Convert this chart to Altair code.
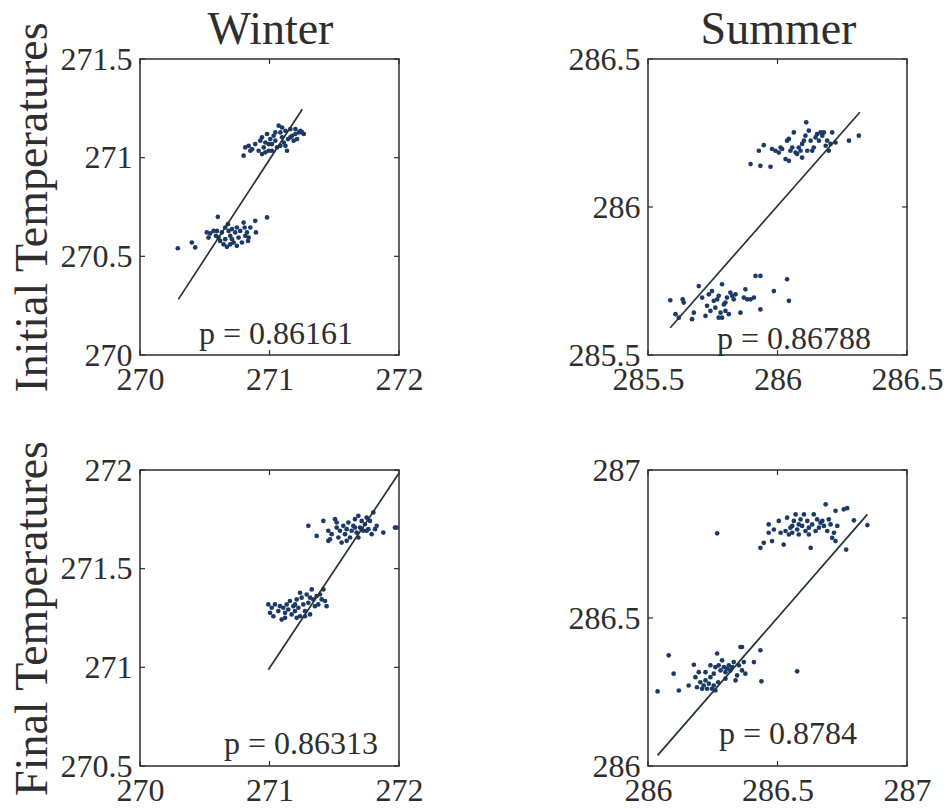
import altair as alt
import pandas as pd

# ---- Winter, initial temperatures -------------------------------------
winter_init_x = [270.292, 270.400, 270.426, 270.601, 270.516, 270.542, 270.568, 270.586, 270.606, 270.632,
                 270.658, 270.679, 270.684, 270.697, 270.710, 270.723, 270.735, 270.748, 270.761, 270.774,
                 270.787, 270.800, 270.813, 270.826, 270.839, 270.852, 270.895, 270.890, 270.981, 270.645,
                 270.671, 270.619, 270.594, 270.710, 270.748, 270.808, 270.834, 270.529, 270.658, 270.697,
                 270.800, 270.813, 270.839, 270.865, 270.890, 270.916, 270.929, 270.942, 270.955, 270.968,
                 270.981, 270.994, 271.006, 271.019, 271.032, 271.045, 271.058, 271.071, 271.084, 271.097,
                 271.110, 271.123, 271.135, 271.143, 271.161, 271.174, 271.187, 271.200, 271.213, 271.226,
                 271.239, 271.252, 271.265, 270.942, 270.968, 271.045, 271.097, 271.019, 271.123, 271.161,
                 271.084, 270.994, 270.852, 271.200]
winter_init_y = [270.541, 270.570, 270.545, 270.700, 270.621, 270.616, 270.629, 270.604, 270.595, 270.621,
                 270.646, 270.663, 270.629, 270.604, 270.587, 270.570, 270.621, 270.553, 270.595, 270.629,
                 270.570, 270.671, 270.604, 270.621, 270.595, 270.646, 270.621, 270.680, 270.697, 270.561,
                 270.548, 270.578, 270.629, 270.638, 270.646, 270.646, 270.578, 270.595, 270.587, 270.561,
                 271.010, 271.052, 271.060, 271.043, 271.069, 271.035, 271.086, 271.103, 271.052, 271.077,
                 271.120, 271.035, 271.094, 271.069, 271.111, 271.086, 271.052, 271.162, 271.128, 271.103,
                 271.077, 271.136, 271.035, 271.094, 271.145, 271.111, 271.086, 271.120, 271.094, 271.128,
                 271.136, 271.128, 271.120, 271.018, 271.027, 271.128, 271.153, 271.035, 271.060, 271.103,
                 271.060, 271.069, 271.035, 271.145]
winter_init_fit_x = [270.296, 271.253]
winter_init_fit_y = [270.282, 271.245]

# ---- Summer, initial temperatures -------------------------------------
summer_init_x = [285.586, 285.606, 285.634, 285.638, 285.619, 285.670, 285.677, 285.696, 285.709, 285.722,
                 285.728, 285.735, 285.747, 285.754, 285.760, 285.767, 285.773, 285.780, 285.786, 285.786,
                 285.793, 285.799, 285.805, 285.812, 285.818, 285.825, 285.831, 285.838, 285.857, 285.870,
                 285.876, 285.883, 285.896, 285.909, 285.915, 285.934, 285.934, 285.986, 286.037, 286.044,
                 285.741, 285.799, 285.773,
                 285.896, 285.934, 285.973, 285.928, 285.947, 285.979, 285.992, 286.005, 286.018, 286.031,
                 286.037, 286.044, 286.050, 286.057, 286.063, 286.070, 286.076, 286.082, 286.089, 286.095,
                 286.102, 286.108, 286.111, 286.115, 286.121, 286.128, 286.134, 286.140, 286.147, 286.153,
                 286.160, 286.166, 286.173, 286.179, 286.186, 286.192, 286.198, 286.205, 286.211, 286.224,
                 286.276, 286.314, 286.044, 286.012, 286.095]
summer_init_y = [285.685, 285.638, 285.688, 285.677, 285.626, 285.621, 285.643, 285.733, 285.694, 285.632,
                 285.666, 285.705, 285.716, 285.683, 285.660, 285.688, 285.700, 285.643, 285.739, 285.626,
                 285.671, 285.649, 285.694, 285.638, 285.711, 285.700, 285.688, 285.705, 285.643, 285.694,
                 285.722, 285.688, 285.688, 285.694, 285.767, 285.767, 285.654, 285.716, 285.756, 285.683,
                 285.649, 285.677, 285.626,
                 286.145, 286.139, 286.136, 286.190, 286.209, 286.196, 286.190, 286.184, 286.196, 286.162,
                 286.224, 286.156, 286.190, 286.201, 286.252, 286.184, 286.179, 286.201, 286.190, 286.167,
                 286.224, 286.241, 286.286, 286.190, 286.258, 286.224, 286.190, 286.201, 286.235, 286.246,
                 286.224, 286.252, 286.241, 286.252, 286.207, 286.224, 286.190, 286.213, 286.252, 286.218,
                 286.224, 286.241, 286.230, 286.201, 286.213]
summer_init_fit_x = [285.586, 286.318]
summer_init_fit_y = [285.592, 286.320]

# ---- Winter, final temperatures ---------------------------------------
winter_final_x = [270.991, 271.004, 271.017, 271.030, 271.042, 271.068, 271.081, 271.094, 271.107, 271.120,
                  271.133, 271.145, 271.158, 271.171, 271.184, 271.197, 271.210, 271.223, 271.236, 271.248,
                  271.261, 271.274, 271.287, 271.300, 271.313, 271.326, 271.338, 271.351, 271.364, 271.377,
                  271.390, 271.403, 271.416, 271.429, 271.441, 271.274, 271.210, 271.120, 271.197, 271.313,
                  271.236,
                  271.300, 271.364, 271.416, 271.454, 271.467, 271.480, 271.506, 271.519, 271.532, 271.544,
                  271.557, 271.570, 271.583, 271.596, 271.609, 271.622, 271.634, 271.647, 271.660, 271.673,
                  271.686, 271.699, 271.712, 271.725, 271.737, 271.750, 271.763, 271.776, 271.789, 271.802,
                  271.815, 271.828, 271.879, 271.969, 271.982, 271.519, 271.596, 271.686, 271.712, 271.750,
                  271.454, 271.660]
winter_final_y = [271.319, 271.276, 271.302, 271.259, 271.319, 271.285, 271.310, 271.242, 271.302, 271.276,
                  271.319, 271.293, 271.336, 271.268, 271.310, 271.285, 271.344, 271.302, 271.259, 271.353,
                  271.319, 271.285, 271.369, 271.327, 271.268, 271.395, 271.344, 271.310, 271.361, 271.319,
                  271.369, 271.344, 271.395, 271.336, 271.310, 271.259, 271.251, 271.251, 271.319, 271.353,
                  271.378,
                  271.717, 271.666, 271.742, 271.692, 271.649, 271.675, 271.751, 271.708, 271.658, 271.692,
                  271.632, 271.717, 271.675, 271.700, 271.734, 271.658, 271.692, 271.717, 271.751, 271.683,
                  271.768, 271.708, 271.742, 271.692, 271.725, 271.759, 271.700, 271.742, 271.675, 271.785,
                  271.700, 271.717, 271.683, 271.708, 271.708, 271.734, 271.641, 271.658, 271.700, 271.692,
                  271.641, 271.708]
winter_final_fit_x = [270.991, 271.995]
winter_final_fit_y = [270.988, 271.980]

# ---- Summer, final temperatures ---------------------------------------
summer_final_x = [286.037, 286.080, 286.099, 286.119, 286.157, 286.177, 286.183, 286.189, 286.196, 286.202,
                  286.209, 286.215, 286.222, 286.228, 286.235, 286.241, 286.247, 286.254, 286.260, 286.267,
                  286.271, 286.273, 286.280, 286.286, 286.293, 286.299, 286.305, 286.312, 286.318, 286.325,
                  286.331, 286.338, 286.344, 286.351, 286.357, 286.363, 286.370, 286.376, 286.409, 286.434,
                  286.438, 286.576, 286.241, 286.222, 286.299, 286.254, 286.363, 286.260,
                  286.267, 286.434, 286.447, 286.466, 286.466, 286.479, 286.486, 286.505, 286.512, 286.524,
                  286.537, 286.544, 286.550, 286.557, 286.563, 286.570, 286.576, 286.582, 286.589, 286.595,
                  286.602, 286.608, 286.615, 286.621, 286.628, 286.634, 286.640, 286.647, 286.653, 286.660,
                  286.666, 286.673, 286.679, 286.686, 286.692, 286.698, 286.705, 286.711, 286.718, 286.724,
                  286.731, 286.756, 286.769, 286.765, 286.795, 286.847, 286.557, 286.531, 286.621, 286.582,
                  286.724]
summer_final_y = [286.252, 286.374, 286.312, 286.255, 286.272, 286.342, 286.300, 286.266, 286.317, 286.283,
                  286.261, 286.272, 286.289, 286.261, 286.278, 286.300, 286.261, 286.312, 286.334, 286.380,
                  286.283, 286.340, 286.323, 286.357, 286.334, 286.317, 286.329, 286.340, 286.323, 286.334,
                  286.351, 286.289, 286.306, 286.340, 286.402, 286.323, 286.351, 286.312, 286.351, 286.391,
                  286.286, 286.320, 286.340, 286.317, 286.295, 286.272, 286.402, 286.255,
                  286.786, 286.737, 286.754, 286.816, 286.788, 286.760, 286.799, 286.828, 286.788, 286.748,
                  286.839, 286.782, 286.805, 286.788, 286.828, 286.850, 286.799, 286.782, 286.833, 286.811,
                  286.850, 286.794, 286.828, 286.805, 286.737, 286.816, 286.850, 286.794, 286.833, 286.805,
                  286.822, 286.828, 286.811, 286.884, 286.794, 286.833, 286.816, 286.771, 286.788, 286.862,
                  286.811, 286.867, 286.871, 286.731, 286.830, 286.814, 286.811, 286.794, 286.782, 286.816,
                  286.760]
summer_final_fit_x = [286.037, 286.847]
summer_final_fit_y = [286.036, 286.850]

# correlation labels
rho_labels = ["p = 0.86161", "p = 0.86788", "p = 0.86313", "p = 0.8784"]
season_titles = ["Winter", "Summer"]
row_titles = ["Initial Temperatures", "Final Temperatures"]

# axis ticks
winter_init_xticks = [270, 271, 272]
winter_init_yticks = [270, 270.5, 271, 271.5]
summer_init_xticks = [285.5, 286, 286.5]
summer_init_yticks = [285.5, 286, 286.5]
winter_final_xticks = [270, 271, 272]
winter_final_yticks = [270.5, 271, 271.5, 272]
summer_final_xticks = [286, 286.5, 287]
summer_final_yticks = [286, 286.5, 287]

SERIF = "Liberation Serif"
DOT = "#1b3a68"
LINE = "#263434"
INK = "#2e2e2e"
W, H = 259, 296
TICK = 5


def panel(x, y, fit_x, fit_y, xticks, yticks, label, label_x, label_y,
          title=None, ytitle=None):
    xs = alt.Scale(domain=[xticks[0], xticks[-1]], nice=False, zero=False)
    ys = alt.Scale(domain=[yticks[0], yticks[-1]], nice=False, zero=False)
    common = dict(format="~g", grid=False, domain=False, ticks=False,
                  labelFlush=False, labelOverlap=False, labelBound=False,
                  labelFont=SERIF, labelFontSize=32, labelColor=INK)
    xaxis = alt.Axis(values=xticks, title=None, labelPadding=9, **common)
    if ytitle:
        yaxis = alt.Axis(values=yticks, title=ytitle, titleFont=SERIF, titleFontSize=46,
                         titleFontWeight="normal", titleColor=INK, titlePadding=4,
                         labelPadding=8, **common)
    else:
        yaxis = alt.Axis(values=yticks, title=None, labelPadding=8, **common)

    pts = pd.DataFrame({"x": x, "y": y})
    fit = pd.DataFrame({"x": fit_x, "y": fit_y})
    xt = pd.DataFrame({"v": xticks})
    yt = pd.DataFrame({"v": yticks})

    # every layer carries the same axis definition so the layer keeps its axes
    X = lambda f: alt.X(f, scale=xs, axis=xaxis)
    Y = lambda f: alt.Y(f, scale=ys, axis=yaxis)

    dots = alt.Chart(pts).mark_circle(size=22, color=DOT, opacity=1).encode(
        x=X("x:Q"), y=Y("y:Q"))
    line = alt.Chart(fit).mark_line(color=LINE, strokeWidth=1.7).encode(
        x=X("x:Q"), y=Y("y:Q"))
    # inward tick marks on all four sides of the box
    rule = dict(color=INK, strokeWidth=1.2)
    tick_top = alt.Chart(xt).mark_rule(**rule).encode(
        x=X("v:Q"), y=alt.value(0), y2=alt.value(TICK))
    tick_bottom = alt.Chart(xt).mark_rule(**rule).encode(
        x=X("v:Q"), y=alt.value(H), y2=alt.value(H - TICK))
    tick_left = alt.Chart(yt).mark_rule(**rule).encode(
        y=Y("v:Q"), x=alt.value(0), x2=alt.value(TICK))
    tick_right = alt.Chart(yt).mark_rule(**rule).encode(
        y=Y("v:Q"), x=alt.value(W), x2=alt.value(W - TICK))
    text = alt.Chart(pd.DataFrame({"t": [label]})).mark_text(
        font=SERIF, fontSize=32, color=INK, align="center", baseline="alphabetic"
    ).encode(x=alt.value(label_x), y=alt.value(label_y), text="t:N")

    layers = [dots, line, tick_top, tick_bottom, tick_left, tick_right, text]
    if title:
        # column heading just above the box
        layers.append(alt.Chart(pd.DataFrame({"t": [title]})).mark_text(
            font=SERIF, fontSize=46, color=INK, align="center", baseline="alphabetic"
        ).encode(x=alt.value(W / 2 + 1), y=alt.value(-15), text="t:N"))
    return alt.layer(*layers).properties(width=W, height=H)


p1 = panel(winter_init_x, winter_init_y, winter_init_fit_x, winter_init_fit_y,
           winter_init_xticks, winter_init_yticks, rho_labels[0], 136, 285,
           title=season_titles[0], ytitle=row_titles[0])
p2 = panel(summer_init_x, summer_init_y, summer_init_fit_x, summer_init_fit_y,
           summer_init_xticks, summer_init_yticks, rho_labels[1], 146, 290,
           title=season_titles[1])
p3 = panel(winter_final_x, winter_final_y, winter_final_fit_x, winter_final_fit_y,
           winter_final_xticks, winter_final_yticks, rho_labels[2], 161, 284,
           ytitle=row_titles[1])
p4 = panel(summer_final_x, summer_final_y, summer_final_fit_x, summer_final_fit_y,
           summer_final_xticks, summer_final_yticks, rho_labels[3], 140, 274)

chart = (
    alt.concat(p1, p2, p3, p4, columns=2, spacing={"row": 115, "column": 249}, bounds="flush")
    .properties(padding={"left": 8, "top": 6, "right": 4, "bottom": 0}, background="white")
    .configure_view(stroke=INK, strokeWidth=1.5)
)

chart.save("out.html", embed_options={"renderer": "svg", "actions": False})
